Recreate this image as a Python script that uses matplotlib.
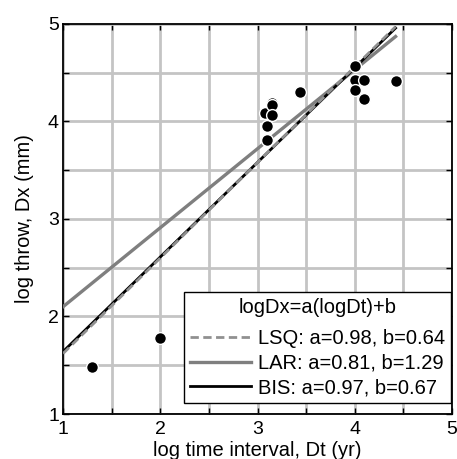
import numpy as np
import matplotlib
matplotlib.use("Agg")
import matplotlib.pyplot as plt

plt.rcParams['font.family'] = ['Liberation Sans', 'DejaVu Sans']

# data
log_dt = [1.30, 2.00, 3.08, 3.10, 3.10, 3.15, 3.15, 3.15, 3.44,
          4.00, 4.00, 4.00, 4.10, 4.10, 4.42]
log_dx = [1.48, 1.78, 4.09, 3.95, 3.81, 4.19, 4.17, 4.07, 4.30,
          4.57, 4.42, 4.32, 4.42, 4.23, 4.41]

fits = ["LSQ", "LAR", "BIS"]
slopes = [0.98, 0.81, 0.97]
intercepts = [0.64, 1.29, 0.67]

ticks = [1, 1.5, 2, 2.5, 3, 3.5, 4, 4.5, 5]
tick_labels = ["1", "", "2", "", "3", "", "4", "", "5"]

fig = plt.figure(figsize=(4.57, 4.59), dpi=100)
ax = fig.add_axes([0.138, 0.098, 0.851, 0.850])

xx = np.array([1.0, max(log_dt)])
styles = {
    "LSQ": dict(color="#909090", lw=2.0, ls=(0, (3, 1.6)), zorder=4),
    "LAR": dict(color="#7f7f7f", lw=2.4, ls="-", zorder=3),
    "BIS": dict(color="black", lw=2.0, ls="-", zorder=3),
}
handles = {}
for name, a, b in zip(fits, slopes, intercepts):
    h, = ax.plot(xx, a * xx + b, **styles[name],
                 label=f"{name}: a={a:.2f}, b={b:.2f}")
    handles[name] = h

ax.plot(log_dt, log_dx, "o", color="black", mec="white", mew=1.0,
        ms=8.5, zorder=5)

ax.set_xlim(1, 5)
ax.set_ylim(1, 5)
ax.set_xticks(ticks)
ax.set_xticklabels(tick_labels)
ax.set_yticks(ticks)
ax.set_yticklabels(tick_labels)
ax.tick_params(direction="in", length=4, width=1, top=True, right=True,
               labelsize=14, pad=3)
ax.tick_params(axis="x", pad=5)
ax.grid(True, color="#c4c4c4", lw=2.0, zorder=0)
ax.set_axisbelow(True)
for s in ax.spines.values():
    s.set_linewidth(1.3)

ax.set_xlabel("log time interval, Dt (yr)", fontsize=14.5, labelpad=2)
ax.set_ylabel("log throw, Dx (mm)", fontsize=14.5, labelpad=10)

leg = ax.legend([handles[n] for n in fits],
                [handles[n].get_label() for n in fits],
                title="logDx=a(logDt)+b", loc="lower right",
                bbox_to_anchor=(0.997, 0.028), borderaxespad=0,
                fontsize=14.5, title_fontsize=14.5, fancybox=False,
                framealpha=1, edgecolor="black", handlelength=3.0,
                handletextpad=0.35, labelspacing=0.27, borderpad=0.3)
leg._legend_box.sep = 9
leg.get_frame().set_linewidth(1.0)
leg.set_zorder(10)

fig.savefig("out.png", dpi=100)
